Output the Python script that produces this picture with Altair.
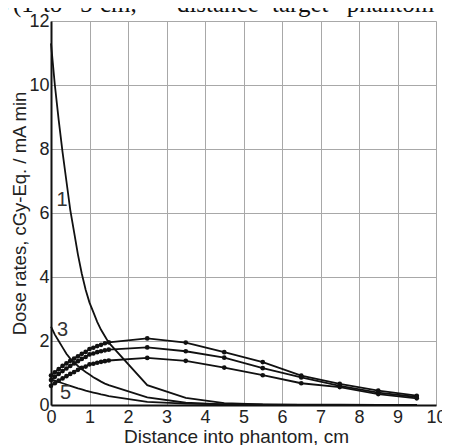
import altair as alt
import pandas as pd

# x grid of the data points (cm)
xs = [0.0, 0.1, 0.2, 0.3, 0.4, 0.5, 0.6, 0.7, 0.8, 0.9, 1.0, 1.1, 1.2, 1.3, 1.4, 1.5,
      2.5, 3.5, 4.5, 5.5, 6.5, 7.5, 8.5, 9.5]

# curves without markers (labelled 1, 3, 5)
c1 = [11.3, 10.0, 8.9, 7.9, 7.0, 6.1, 5.4, 4.7, 4.1, 3.6, 3.2, 2.9, 2.6, 2.35, 2.15, 1.95,
      0.62, 0.22, 0.06, 0.02, 0.01, 0.01, 0.0, 0.0]
c3 = [2.45, 2.2, 2.0, 1.8, 1.6, 1.45, 1.33, 1.22, 1.12, 1.03, 0.95, 0.87, 0.8, 0.73, 0.67, 0.62,
      0.24, 0.07, 0.02, 0.01, 0.0, 0.0, 0.0, 0.0]
c5 = [0.8, 0.76, 0.72, 0.68, 0.64, 0.6, 0.56, 0.52, 0.49, 0.45, 0.42, 0.39, 0.36, 0.33, 0.31, 0.28,
      0.1, 0.04, 0.02, 0.01, 0.0, 0.0, 0.0, 0.0]

# curves with markers
p_top = [0.92, 1.02, 1.12, 1.22, 1.3, 1.38, 1.45, 1.52, 1.6, 1.66, 1.75, 1.79, 1.84, 1.88, 1.93, 1.96,
         2.08, 1.95, 1.65, 1.34, 0.92, 0.66, 0.45, 0.29]
p_mid = [0.78, 0.88, 0.97, 1.06, 1.14, 1.22, 1.3, 1.37, 1.44, 1.5, 1.58, 1.61, 1.65, 1.68, 1.71, 1.73,
         1.8, 1.68, 1.48, 1.15, 0.86, 0.6, 0.39, 0.25]
p_bot = [0.6, 0.68, 0.76, 0.83, 0.9, 0.97, 1.03, 1.1, 1.16, 1.2, 1.27, 1.29, 1.32, 1.35, 1.37, 1.39,
         1.47, 1.38, 1.17, 0.93, 0.68, 0.56, 0.34, 0.21]

x_ticks = [0, 1, 2, 3, 4, 5, 6, 7, 8, 9, 10]
y_ticks = [0, 2, 4, 6, 8, 10, 12]

curve_labels = ["1", "3", "5"]
label_x = [0.29, 0.3, 0.38]
label_y = [6.4, 2.34, 0.39]

# clipped caption line above the chart (justified text, word by word)
caption_words = ["s", "(1", "to", "5", "cm,", "distance", "target-", "phantom"]
caption_x = [-1.35, -0.99, -0.21, 0.75, 1.27, 3.27, 5.74, 7.68]
caption_y = 12.28

series = {"c1": c1, "c3": c3, "c5": c5, "top": p_top, "mid": p_mid, "bot": p_bot}
rows = []
for name, vals in series.items():
    for x, v in zip(xs, vals):
        rows.append({"series": name, "x": x, "y": v,
                     "marked": name in ("top", "mid", "bot")})
df = pd.DataFrame(rows)

lab_df = pd.DataFrame({"t": curve_labels, "x": label_x, "y": label_y})
cap_df = pd.DataFrame({"t": caption_words, "x": caption_x,
                       "y": [caption_y] * len(caption_words)})

xscale = alt.Scale(domain=[0, 10], nice=False, zero=False)
yscale = alt.Scale(domain=[0, 12], nice=False, zero=False)

FONT = "Liberation Sans"

xaxis = alt.Axis(values=x_ticks, grid=True, gridColor="#a8a8a8", gridWidth=1,
                 ticks=False, tickSize=0, domainColor="#111", domainWidth=2,
                 labelFont=FONT, labelFontSize=18, labelColor="#222", labelPadding=3,
                 labelBaseline="top",
                 labelFlush=False, labelOverlap=False,
                 title="Distance into phantom, cm", titleFont=FONT, titleFontSize=19,
                 titleFontWeight="normal", titleColor="#222", titleX=185, titleY=37,
                 titleAlign="center", titleBaseline="alphabetic")
yaxis = alt.Axis(values=y_ticks, grid=True, gridColor="#a8a8a8", gridWidth=1,
                 ticks=False, tickSize=0, domainColor="#111", domainWidth=2,
                 labelFont=FONT, labelFontSize=18, labelColor="#222", labelPadding=2,
                 labelFlush=False, labelOverlap=False,
                 title="Dose rates, cGy-Eq. / mA min", titleFont=FONT, titleFontSize=18.5,
                 titleFontWeight="normal", titleColor="#222", titleX=-26, titleY=192,
                 titleAngle=270, titleAlign="center", titleBaseline="alphabetic")

X = alt.X("x:Q", scale=xscale, axis=xaxis)
Y = alt.Y("y:Q", scale=yscale, axis=yaxis)

base = alt.Chart(df)
lines = base.mark_line(color="#111", strokeWidth=1.8).encode(
    x=X, y=Y, detail="series:N",
)
points = base.transform_filter(alt.datum.marked).mark_circle(
    color="#111", opacity=1, size=22).encode(x=X, y=Y)
labels = alt.Chart(lab_df).mark_text(font=FONT, fontSize=20, color="#333",
                                     align="center", baseline="middle").encode(
    x=X, y=Y, text="t:N")
cap = alt.Chart(cap_df).mark_text(font="Liberation Serif", fontSize=25, color="#111",
                                  align="left", baseline="alphabetic").encode(
    x=X, y=Y, text="t:N")

chart = alt.layer(lines, points, labels, cap).properties(
    width=385, height=384,
    padding={"left": 43, "top": 13, "right": 6, "bottom": 40},
    autosize=alt.AutoSizeParams(type="none"),
).configure_view(stroke="#a8a8a8", strokeWidth=1).configure_axis(
    labelOverlap=False).configure(background="white")

chart.save("out.html", embed_options={"renderer": "svg", "actions": False})
